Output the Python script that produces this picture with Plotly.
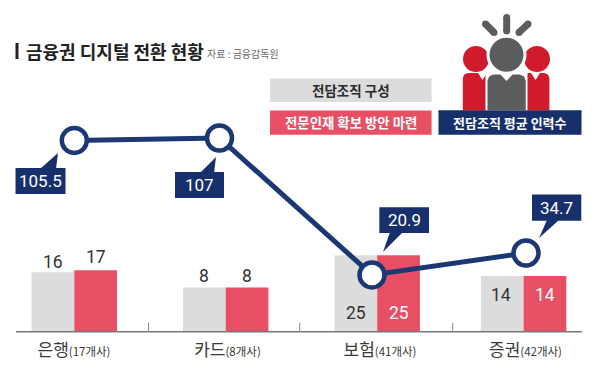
import plotly.graph_objects as go

# --- data ---
categories = ["은행", "카드", "보험", "증권"]
company_counts = ["17개사", "8개사", "41개사", "42개사"]
team_structure = [16, 8, 25, 14]
talent_plan = [17, 8, 25, 14]
avg_staff = [105.5, 107, 20.9, 34.7]

# --- layout ---
W, H = 600, 374
BASE_PY = 331.7
FONT = "Noto Sans CJK KR"
NUM_FONT = "Roboto"
NAVY = "#17306b"
LINE = "#1b3874"
RED = "#e94f64"
GRAY = "#dcdcdc"
ICON_GRAY = "#5b5c5e"
ICON_RED = "#cf1b2c"
TXT = "#333333"

group_x = [74.3, 225.7, 377.2, 523.6]
line_x = [74.3, 219.5, 372, 526]
tick_x = [74, 227.5, 380, 525.5]
BAR_W = 42.7
# bar axis is truncated: the baseline sits below zero in the reference
BAR_PX_PER_UNIT = 1.9
BAR_FLOOR = -15.3
LINE_PX_PER_UNIT = 1.59
LINE_TOP_PY = 138


def fx(p):
    return p / W


def fy(p):
    return 1 - p / H


def poly(points, fill, layer="above"):
    d = "M " + " L ".join(f"{fx(a):.5f},{fy(b):.5f}" for a, b in points) + " Z"
    return dict(type="path", xref="paper", yref="paper", path=d, fillcolor=fill,
                line=dict(width=0), layer=layer)


def rect(x0, y0, x1, y1, fill):
    return dict(type="rect", xref="paper", yref="paper", x0=fx(x0), x1=fx(x1), y0=fy(y1), y1=fy(y0),
                fillcolor=fill, line=dict(width=0), layer="above")


def circle(cx, cy, r, fill, lw=0, lc="white"):
    return dict(type="circle", xref="paper", yref="paper", x0=fx(cx - r), x1=fx(cx + r),
                y0=fy(cy + r), y1=fy(cy - r), fillcolor=fill, line=dict(width=lw, color=lc), layer="above")


def seg(x0, y0, x1, y1, color, w):
    return dict(type="line", xref="paper", yref="paper", x0=fx(x0), x1=fx(x1), y0=fy(y0), y1=fy(y1),
                line=dict(color=color, width=w), layer="above")


def label(x, y, text, size, color=TXT, bold=False, anchor="center", family=FONT):
    t = f"<b>{text}</b>" if bold else text
    return dict(xref="paper", yref="paper", x=fx(x), y=fy(y), text=t, showarrow=False, xanchor=anchor,
                yanchor="middle", font=dict(family=family, size=size, color=color))


def body(x0, x1, top, bottom, fill, r=6):
    pts = [(x0, bottom), (x0, top + r), (x0 + r * .3, top + r * .3), (x0 + r, top),
           (x1 - r, top), (x1 - r * .3, top + r * .3), (x1, top + r), (x1, bottom)]
    return poly(pts, fill)


fig = go.Figure()
off = -BAR_FLOOR
for vals, color, shift in ((team_structure, GRAY, -BAR_W / 2), (talent_plan, RED, BAR_W / 2)):
    fig.add_trace(go.Bar(x=[g + shift for g in group_x], y=[v + off for v in vals], base=BAR_FLOOR,
                         width=BAR_W, marker=dict(color=color, line=dict(width=0)),
                         hoverinfo="skip", yaxis="y"))
fig.add_trace(go.Scatter(x=line_x, y=avg_staff, mode="lines+markers", yaxis="y2",
                         line=dict(color=LINE, width=5),
                         marker=dict(size=25, color="white", line=dict(color=LINE, width=4.5)),
                         hoverinfo="skip"))

shapes = []
# baseline and separators
shapes.append(seg(16, BASE_PY, 582, BASE_PY, "#77787a", 1.5))
for x in (148.5, 299.7, 452.7):
    shapes.append(seg(x, BASE_PY - 9, x, BASE_PY, "#8a8a8a", 1))
# title bar
shapes.append(rect(15.5, 43, 18.5, 59, "#222222"))
# legend boxes
shapes.append(rect(270, 78.5, 431.6, 102, GRAY))
shapes.append(rect(270, 110.5, 431.6, 134.8, RED))
shapes.append(rect(438.5, 110.5, 581.5, 134.8, NAVY))
# callouts
shapes += [
    rect(15.5, 168, 65.5, 194, NAVY), poly([(40, 169), (56, 169), (58, 153)], NAVY),
    rect(175, 172, 224, 198, NAVY), poly([(200, 173), (214, 173), (216, 157)], NAVY),
    rect(379.3, 207.3, 429, 233, NAVY), poly([(390, 232), (403, 232), (383, 252)], NAVY),
    rect(532, 194.5, 581.3, 220.7, NAVY), poly([(547, 220), (559, 220), (539, 238)], NAVY),
]
# icon: rays
for a, b, c, d in ((485.5, 24, 494, 32.5), (506.7, 17.5, 506.7, 31), (528, 24, 519, 32.5)):
    shapes += [seg(a, b, c, d, ICON_GRAY, 7), circle(a, b, 3.5, ICON_GRAY), circle(c, d, 3.5, ICON_GRAY)]
# icon: red people
shapes += [circle(476, 59, 13, ICON_RED), circle(537, 59, 13, ICON_RED)]
shapes += [body(462.8, 490, 73, 110.5, ICON_RED, 5), body(523, 549.4, 73, 110.5, ICON_RED, 5)]
shapes += [poly([(478, 73), (487, 73), (482.5, 80)], "white"), poly([(531, 73), (540, 73), (535.5, 80)], "white")]
# icon: grey person over them, with white outline
shapes += [rect(485.5, 72, 527.5, 110.5, "white")]
shapes += [circle(506.5, 54.7, 18.5, ICON_GRAY, 3)]
shapes += [body(487.5, 525.7, 74.5, 110.5, ICON_GRAY, 6)]
shapes += [poly([(500, 74), (513, 74), (506.5, 81)], "white")]
shapes.append(rect(438.5, 110.5, 581.5, 112, NAVY))

ann = [
    label(24, 51, "금융권 디지털 전환 현황", 18, "#222222", True, "left"),
    label(205, 53.5, "자료 : 금융감독원", 10, "#6a6a6a", False, "left"),
    label(351, 90, "전담조직 구성", 13.5, "#2b2b2b", True),
    label(351, 122.5, "전문인재 확보 방안 마련", 13.4, "white", True),
    label(510, 122.5, "전담조직 평균 인력수", 13, "white", True),
]
for x, y, v in zip((40.5, 199.5, 404, 556), (181, 185, 220, 207.5), avg_staff):
    ann.append(label(x, y, str(v), 17, "white", family=NUM_FONT))
gray_y = (262, 276, 313, 295)
red_y = (256.5, 276, 313, 295)
red_col = (TXT, TXT, "white", "white")
for g, gy, ry, rc, a, b in zip(group_x, gray_y, red_y, red_col, team_structure, talent_plan):
    ann.append(label(g - BAR_W / 2 + (-1 if g > 500 else 0), gy, str(a), 17.5, family=NUM_FONT))
    ann.append(label(g + BAR_W / 2, ry, str(b), 17.5, rc, family=NUM_FONT))

ticktext = [f"{c}<span style='font-size:11.5px'>({n})</span>" for c, n in zip(categories, company_counts)]

bottom = fy(BASE_PY)
plot_h = BASE_PY
fig.update_layout(
    width=W, height=H, autosize=False,
    margin=dict(l=0, r=0, t=0, b=0), paper_bgcolor="white", plot_bgcolor="rgba(0,0,0,0)",
    showlegend=False, barmode="overlay", font=dict(family=FONT),
    xaxis=dict(domain=[0, 1], range=[0, W], tickmode="array", tickvals=tick_x, ticktext=ticktext,
               showgrid=False, zeroline=False, showline=False, ticks="", ticklabelstandoff=6,
               tickfont=dict(family=FONT, size=17, color="#3a3a3a"), anchor="y"),
    yaxis=dict(domain=[bottom, 1], range=[BAR_FLOOR, BAR_FLOOR + plot_h / BAR_PX_PER_UNIT],
               visible=False, fixedrange=True),
    yaxis2=dict(domain=[bottom, 1], overlaying="y",
                range=[max(avg_staff) - (BASE_PY - LINE_TOP_PY) / LINE_PX_PER_UNIT,
                       max(avg_staff) + LINE_TOP_PY / LINE_PX_PER_UNIT],
                visible=False, fixedrange=True),
    shapes=shapes, annotations=ann,
)
fig.write_html("out.html", config={"displayModeBar": False},
               post_script="document.body.style.margin='0';document.documentElement.style.overflow='hidden';")
